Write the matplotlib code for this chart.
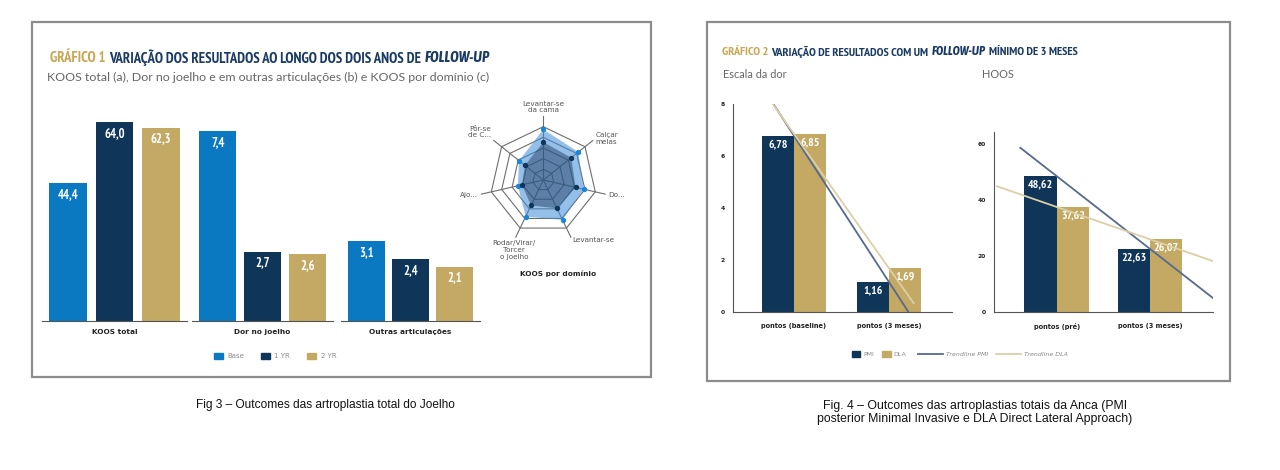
"""
Gráfico 1 (joelho) e Gráfico 2 (anca) - outcomes das artroplastias
"""

import numpy as np
import matplotlib
matplotlib.use('Agg')
import matplotlib.pyplot as plt
from matplotlib import font_manager as fm
from matplotlib.patches import Rectangle, Patch
from matplotlib.lines import Line2D

# ---- dados: joelho ----
grupos = ['KOOS total', 'Dor no joelho', 'Outras articulações']
series = ['Base', '1 YR', '2 YR']
koos_total = [44.4, 64.0, 62.3]
dor_joelho = [7.4, 2.7, 2.6]
outras_art = [3.1, 2.4, 2.1]

dominios = ['Levantar-se\nda cama', 'Calçar\nmeias', 'Do...', 'Levantar-se',
            'Rodar/Virar/\nTorcer\no Joelho', 'Ajo...', 'Pôr-se\nde C...']
radar_base = [95, 84, 78, 83, 76, 49, 58]
radar_1yr = [71, 67, 62, 59, 53, 41, 44]

# ---- dados: anca ----
cats_dor = ['pontos (baseline)', 'pontos (3 meses)']
dor_pmi = [6.78, 1.16]
dor_dla = [6.85, 1.69]
cats_hoos = ['pontos (pré)', 'pontos (3 meses)']
hoos_pmi = [48.62, 22.63]
hoos_dla = [37.62, 26.07]
# extensão das linhas de tendência (em unidades de categoria)
trend_dor = [(-0.65, 1.21), (-0.65, 1.26)]
trend_hoos = [(-0.39, 1.675), (-0.64, 1.675)]

AZUL, NAVY, OURO = '#0a79c2', '#0f3658', '#c3a964'
T_PMI, T_DLA = '#56698f', '#dccfa5'
SANS = ['Lato', 'DejaVu Sans']


def fonte_condensada(estilo):
    # procura um negrito sans estreito instalado (Narrow antes de Condensed)
    achadas = []
    for f in fm.fontManager.ttflist:
        nome = (f.name + ' ' + f.fname).lower()
        if 'serif' in nome or 'mono' in nome:
            continue
        negrito = 'bold' in nome or str(f.weight) in ('bold', '700')
        if not negrito or f.style != estilo:
            continue
        if 'narrow' in nome:
            achadas.append((0, f.fname))
        elif 'condensed' in nome or 'condensed' in str(f.stretch):
            achadas.append((1, f.fname))
    if achadas:
        return fm.FontProperties(fname=sorted(achadas)[0][1])
    return fm.FontProperties(family='DejaVu Sans', weight='bold', style=estilo)


COND = fonte_condensada('normal')
COND_IT = fonte_condensada('italic')

W, H = 1280, 470
fig = plt.figure(figsize=(12.8, 4.7), dpi=100)
renderer = fig.canvas.get_renderer()


def caixa(x0, y0, x1, y1):
    return [x0 / W, 1 - y1 / H, (x1 - x0) / W, (y1 - y0) / H]


def largura(t):
    return t.get_window_extent(renderer).width


def ajustar(t, alvo):
    t.set_fontsize(t.get_fontsize() * alvo / largura(t))


def fmt(v, d):
    return f'{v:.{d}f}'.replace('.', ',')


def titulo(x0, x1, y, partes):
    ts = []
    for s, c, it in partes:
        fp = (COND_IT if it else COND).copy()
        fp.set_size(10)
        ts.append(fig.text(0, 1 - y / H, s, color=c, fontproperties=fp, va='center'))

    def montar():
        x = x0
        for t in ts:
            t.set_x(x / W)
            x += largura(t) + 0.25 * t.get_fontsize() * 100 / 72
        return x - 0.25 * ts[-1].get_fontsize() * 100 / 72

    k = (x1 - x0) / (montar() - x0)
    for t in ts:
        t.set_fontsize(t.get_fontsize() * k)
    montar()


def rotulo_barra(ax, p, v, txt, dy, size):
    fp = COND.copy()
    fp.set_size(size)
    ax.annotate(txt, (p, v), xytext=(0, dy), textcoords='offset points',
                ha='center', va='center', color='white', fontproperties=fp)


# molduras
for x0, y0, x1, y1 in [(32, 22, 651, 377), (707, 22, 1230, 381)]:
    fig.add_artist(Rectangle((x0 / W, 1 - y1 / H), (x1 - x0) / W, (y1 - y0) / H,
                             transform=fig.transFigure, fill=False,
                             edgecolor='#8c8c8c', lw=1.6))

# ---------------- Gráfico 1 ----------------
titulo(50, 491, 58, [('GRÁFICO 1', '#c9a752', False),
                     ('VARIAÇÃO DOS RESULTADOS AO LONGO DOS DOIS ANOS DE', '#1a3a64', False),
                     ('FOLLOW-UP', '#1a3a64', True)])
t = fig.text(47 / W, 1 - 77 / H, 'KOOS total (a), Dor no joelho e em outras articulações (b) e KOOS por domínio (c)',
             family=SANS, color='#666666', fontsize=9, va='center')
ajustar(t, 446)

pos = np.arange(3) - 1
for nome, vals, (x0, x1), ymax in zip(grupos, [koos_total, dor_joelho, outras_art],
                                      [(42, 187), (192, 333), (341, 480)],
                                      [71.2, 8.62, 8.62]):
    ax = fig.add_axes(caixa(x0, 100, x1, 320.7))
    ax.patch.set_alpha(0)
    ax.bar(pos, vals, width=0.826, color=[AZUL, NAVY, OURO])
    ax.set_xlim(-1.576, 1.576)
    ax.set_ylim(0, ymax)
    for s in ['top', 'right', 'left']:
        ax.spines[s].set_visible(False)
    ax.spines['bottom'].set_color('#555555')
    ax.set_yticks([])
    ax.set_xticks([0], [nome], fontweight='bold', family='DejaVu Sans')
    ax.tick_params(length=0, pad=6, labelsize=5.3, labelcolor='#222222')
    for p, v in zip(pos, vals):
        rotulo_barra(ax, p, v, fmt(v, 1), -8, 9)

fig.legend(handles=[Patch(color=c, label=s) for c, s in zip([AZUL, NAVY, OURO], series)],
           loc='center', bbox_to_anchor=(275 / W, 1 - 356 / H), ncol=3, frameon=False,
           fontsize=5, labelcolor='#888888', handlelength=1.3, handleheight=1.1,
           columnspacing=2.5, handletextpad=0.6)

# radar
R = 64
ax = fig.add_axes(caixa(543.3 - R, 180 - R, 543.3 + R, 180 + R), projection='polar')
ax.set_theta_offset(np.pi / 2)
ax.set_theta_direction(-1)
ax.set_ylim(0, 120)
ax.set_axis_off()
ang = np.linspace(0, 2 * np.pi, len(dominios), endpoint=False)
angc = np.append(ang, ang[0])
for r in [20, 40, 60, 80, 100]:
    ax.plot(angc, [r] * len(angc), color='#6e6e6e', lw=0.8, zorder=1)
for a in ang:
    ax.plot([a, a], [0, 120], color='#6e6e6e', lw=0.8, zorder=1)
vb = np.append(radar_base, radar_base[0])
v1 = np.append(radar_1yr, radar_1yr[0])
ax.fill(angc, vb, color='#3b8bd6', alpha=0.55, lw=0, zorder=2)
ax.fill(angc, v1, color='#1c3358', alpha=0.45, lw=0, zorder=3)
ax.plot(ang, radar_base, 'o', color='#1a86d8', ms=2.8, zorder=4)
ax.plot(ang, radar_1yr, 'o', color=NAVY, ms=2.8, zorder=4)
alinh = [('center', 'bottom'), ('left', 'center'), ('left', 'center'), ('left', 'center'),
         ('center', 'top'), ('right', 'center'), ('right', 'bottom')]
for a, lab, (ha, va) in zip(ang, dominios, alinh):
    ax.text(a, 125, lab, ha=ha, va=va, fontsize=5.2, color='#555555',
            family='DejaVu Sans', linespacing=1.15)
fig.text(558 / W, 1 - 274 / H, 'KOOS por domínio', ha='center', va='center',
         fontsize=5.3, fontweight='bold', color='#222222')

# ---------------- Gráfico 2 ----------------
titulo(722, 1079, 52, [('GRÁFICO 2', '#c9a752', False),
                       ('VARIAÇÃO DE RESULTADOS COM UM', '#1a3a64', False),
                       ('FOLLOW-UP', '#1a3a64', True),
                       ('MÍNIMO DE 3 MESES', '#1a3a64', False)])
t1 = fig.text(723 / W, 1 - 75 / H, 'Escala da dor', family=SANS, color='#666666',
              fontsize=8, va='center')
ajustar(t1, 64)
fig.text(982 / W, 1 - 75 / H, 'HOOS', family=SANS, color='#666666',
         fontsize=t1.get_fontsize(), va='center')

cx = np.arange(2)
for cats, pmi, dla, trend, (x0, y0, x1), ylim, ticks, w, xl in [
        (cats_dor, dor_pmi, dor_dla, trend_dor, (733, 104, 952), 8, [0, 2, 4, 6, 8], 0.337, (-0.642, 1.663)),
        (cats_hoos, hoos_pmi, hoos_dla, trend_hoos, (994, 131.7, 1213), 64.5, [0, 20, 40, 60], 0.347, (-0.672, 1.675))]:
    ax = fig.add_axes(caixa(x0, y0, x1, 312.3))
    ax.patch.set_alpha(0)
    ax.bar(cx - w / 2, pmi, width=w, color=NAVY)
    ax.bar(cx + w / 2, dla, width=w, color=OURO)
    for vals, off in [(pmi, -w / 2), (dla, w / 2)]:
        for p, v in zip(cx + off, vals):
            rotulo_barra(ax, p, v, fmt(v, 2), -6, 8.5)
    for vals, (a, b), c in zip([pmi, dla], trend, [T_PMI, T_DLA]):
        m = vals[1] - vals[0]
        xs = np.array([a, b])
        ax.plot(xs, vals[0] + m * xs, color=c, lw=1.3, zorder=3)
    ax.set_xlim(*xl)
    ax.set_ylim(0, ylim)
    for s in ['top', 'right']:
        ax.spines[s].set_visible(False)
    for s in ['left', 'bottom']:
        ax.spines[s].set_color('#555555')
    ax.set_yticks(ticks, [str(v) for v in ticks], fontweight='bold')
    ax.set_xticks(cx, cats, fontweight='bold')
    ax.tick_params(axis='y', length=0, pad=6, labelsize=4.3, labelcolor='#222222')
    ax.tick_params(axis='x', length=0, pad=8, labelsize=4.8, labelcolor='#222222')

fig.legend(handles=[Patch(color=NAVY, label='PMI'), Patch(color=OURO, label='DLA')],
           loc='center right', bbox_to_anchor=(912 / W, 1 - 354 / H), ncol=2, frameon=False,
           fontsize=4.5, labelcolor='#888888', handlelength=1.4, handleheight=1.1,
           columnspacing=1.2, handletextpad=0.5)
fig.legend(handles=[Line2D([], [], color=T_PMI, lw=1.3, label='Trendline PMI'),
                    Line2D([], [], color=T_DLA, lw=1.3, label='Trendline DLA')],
           loc='center left', bbox_to_anchor=(912 / W, 1 - 354 / H), ncol=2, frameon=False,
           labelcolor='#888888', handlelength=4, prop={'style': 'italic', 'size': 4.5},
           columnspacing=1.2, handletextpad=0.5)

# legendas das figuras
t = fig.text(325.5 / W, 1 - 405 / H, 'Fig 3 – Outcomes das artroplastia total do Joelho',
             family='Liberation Sans', fontsize=9, ha='center', va='center', color='#111111')
ajustar(t, 261)
t = fig.text(975 / W, 1 - 412.5 / H,
             'Fig. 4 – Outcomes das artroplastias totais da Anca (PMI\n'
             'posterior Minimal Invasive e DLA Direct Lateral Approach)',
             family='Liberation Sans', fontsize=9, ha='center', va='center',
             multialignment='center', color='#111111', linespacing=1.15)
ajustar(t, 317)

fig.savefig('out.png', dpi=100, facecolor='white')
